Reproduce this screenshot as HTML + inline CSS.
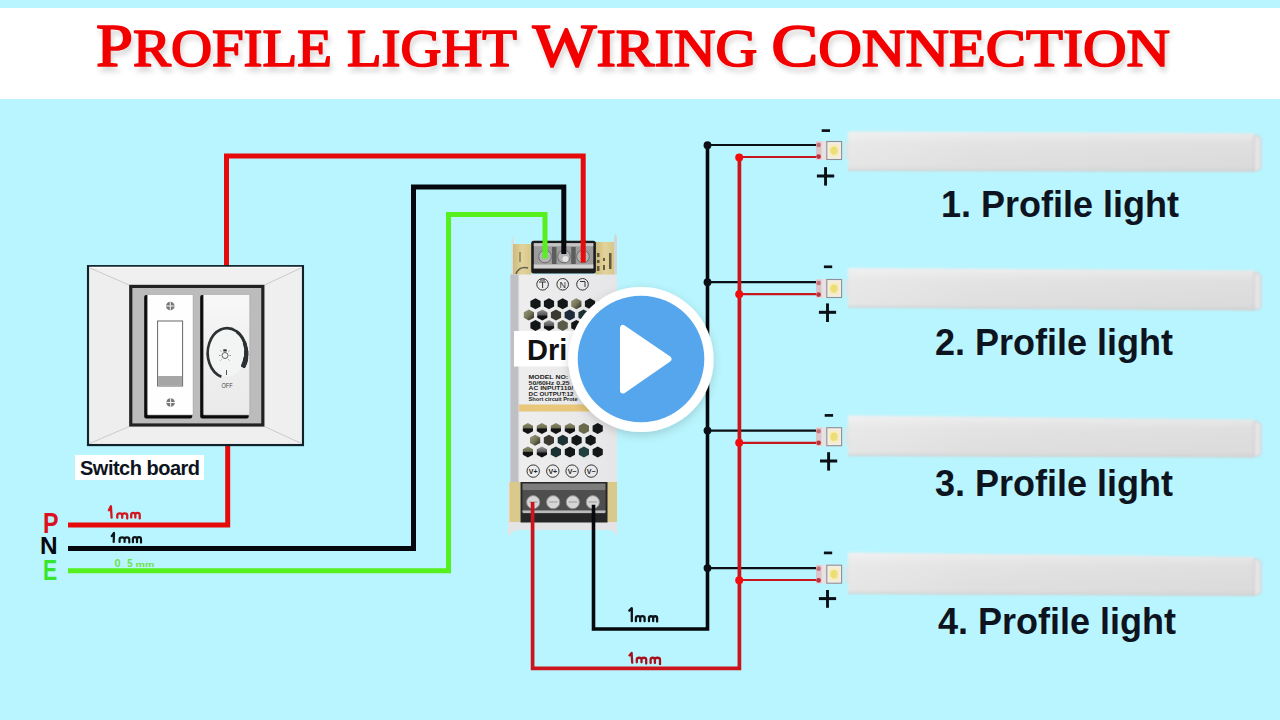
<!DOCTYPE html>
<html><head><meta charset="utf-8"><style>
*{margin:0;padding:0;box-sizing:border-box}
html,body{width:1280px;height:720px;overflow:hidden}
body{position:relative;background:#b9f5fe;font-family:"Liberation Sans",sans-serif}
.band{position:absolute;left:0;top:8px;width:1280px;height:91px;background:#fff}
svg{position:absolute;left:0;top:0}
.lbl{position:absolute;white-space:nowrap;font-family:"Liberation Sans",sans-serif;font-weight:bold;color:#0d1420;line-height:1}
.sb{position:absolute;left:75px;top:455px;width:129px;height:25px;background:#fff}
.title text{font-family:"Liberation Serif",serif;font-weight:normal;fill:#f20000;stroke:#f20000;stroke-width:1.7px;stroke-linejoin:round}
</style></head><body>
<div class="band"></div>

<svg width="1280" height="720" viewBox="0 0 1280 720">
  <defs>
    <filter id="tsh" x="-5%" y="-20%" width="110%" height="160%">
      <feGaussianBlur in="SourceAlpha" stdDeviation="2.8"/>
      <feOffset dx="2" dy="5" result="b"/>
      <feFlood flood-color="#000" flood-opacity="0.15"/>
      <feComposite in2="b" operator="in"/>
      <feMerge><feMergeNode/><feMergeNode in="SourceGraphic"/></feMerge>
    </filter>
    <filter id="psh" x="-20%" y="-20%" width="140%" height="140%">
      <feGaussianBlur in="SourceAlpha" stdDeviation="5"/>
      <feOffset dx="0" dy="3" result="b"/>
      <feFlood flood-color="#000" flood-opacity="0.16"/>
      <feComposite in2="b" operator="in"/>
      <feMerge><feMergeNode/><feMergeNode in="SourceGraphic"/></feMerge>
    </filter>
    <filter id="soft" x="-2%" y="-20%" width="104%" height="140%"><feGaussianBlur stdDeviation="0.8"/></filter>
    <linearGradient id="fade" x1="0" y1="0" x2="1" y2="0"><stop offset="0" stop-color="#e4e4e4" stop-opacity="0"/><stop offset="1" stop-color="#e2e2e2" stop-opacity="1"/></linearGradient>
    <linearGradient id="barv" x1="0" y1="0" x2="0" y2="1"><stop offset="0" stop-color="#fff" stop-opacity="0.45"/><stop offset="0.3" stop-color="#fff" stop-opacity="0.1"/><stop offset="0.75" stop-color="#fff" stop-opacity="0"/><stop offset="1" stop-color="#000" stop-opacity="0.04"/></linearGradient>
    <linearGradient id="bar" x1="0" y1="0" x2="1" y2="0">
      <stop offset="0" stop-color="#e6e6e6"/>
      <stop offset="0.3" stop-color="#e0e0e0"/>
      <stop offset="1" stop-color="#dcdcdc"/>
    </linearGradient>
    <linearGradient id="drv" x1="0" y1="0" x2="1" y2="0">
      <stop offset="0" stop-color="#d6d6d8"/>
      <stop offset="0.1" stop-color="#eeeeef"/>
      <stop offset="1" stop-color="#e6e6e8"/>
    </linearGradient>
    <linearGradient id="ho" x1="0" y1="0" x2="0" y2="1"><stop offset="0" stop-color="#8c8c6a"/><stop offset="0.45" stop-color="#6e6e52"/><stop offset="0.55" stop-color="#111"/><stop offset="1" stop-color="#151515"/></linearGradient>
    <linearGradient id="hl" x1="0" y1="0" x2="1" y2="1"><stop offset="0" stop-color="#9a9a7a"/><stop offset="0.5" stop-color="#77775a"/><stop offset="1" stop-color="#22221c"/></linearGradient>
    <linearGradient id="hg" x1="0" y1="0" x2="0" y2="1"><stop offset="0" stop-color="#9a9a9a"/><stop offset="0.5" stop-color="#555"/><stop offset="0.6" stop-color="#111"/><stop offset="1" stop-color="#111"/></linearGradient>
    <linearGradient id="dim" x1="0" y1="0" x2="0" y2="1"><stop offset="0" stop-color="#f8f8f8"/><stop offset="0.5" stop-color="#efefef"/><stop offset="1" stop-color="#eaeaea"/></linearGradient>
    <linearGradient id="tan" x1="0" y1="0" x2="1" y2="0"><stop offset="0" stop-color="#cdbb7c"/><stop offset="0.5" stop-color="#e2d39c"/><stop offset="1" stop-color="#d6c68a"/></linearGradient>
    </defs>

  <!-- title -->
  <g class="title" filter="url(#tsh)">
    <text x="96" y="66" font-size="62" textLength="236" lengthAdjust="spacingAndGlyphs">P<tspan font-size="53">ROFILE</tspan></text>
    <text x="347" y="66" font-size="53" textLength="170" lengthAdjust="spacingAndGlyphs">LIGHT</text>
    <text x="532.5" y="66" font-size="62" textLength="225" lengthAdjust="spacingAndGlyphs">W<tspan font-size="53">IRING</tspan></text>
    <text x="771.2" y="66" font-size="62" textLength="399" lengthAdjust="spacingAndGlyphs">C<tspan font-size="53">ONNECTION</tspan></text>
  </g>

  <!-- wires left -->
  <g fill="none" stroke-linejoin="miter" stroke-linecap="butt">
    <path d="M68 525 H227.7 V440" stroke="#e60a0a" stroke-width="5"/>
    <path d="M226.5 270 V156 H583.2 V262" stroke="#e60a0a" stroke-width="5"/>
    <path d="M68 548.6 H413.5 V187.1 H563.8 V262" stroke="#05080c" stroke-width="5"/>
    <path d="M68 570.8 H448.5 V214.6 H545 V262" stroke="#55f01e" stroke-width="5"/>
  </g>

  <!-- switch board -->
  <g>
    <rect x="88.1" y="266.2" width="214.8" height="178.8" fill="#eeeeee" stroke="#10232a" stroke-width="2.3"/>
    <polygon points="89.3,267.4 301.7,267.4 264.5,285 129.2,285" fill="#f0f0f1"/>
    <polygon points="89.3,443.8 301.7,443.8 264.5,426.5 129.2,426.5" fill="#efeff0"/>
    <polygon points="89.3,267.4 129.2,285 129.2,426.5 89.3,443.8" fill="#eeeeef"/>
    <polygon points="301.7,267.4 264.5,285 264.5,426.5 301.7,443.8" fill="#efeff0"/>
    <path d="M89.3 267.4 H301.7" stroke="#fbfbfb" stroke-width="1.2"/>
    <path d="M90 268 L129.2 285 M301 268 L264.5 285 M90 443.3 L129.2 426.5 M301 443.3 L264.5 426.5" stroke="#cbcbcb" stroke-width="1"/>
    <rect x="130.75" y="286.4" width="132.1" height="138.6" fill="#bcbcbc" stroke="#222" stroke-width="3.2"/>
    <!-- switch 1 -->
    <rect x="144.2" y="295" width="48" height="123.6" fill="#0a0a0a" rx="2"/>
    <rect x="147.4" y="294.4" width="45.8" height="120.6" fill="#fefefe" stroke="#9a9a9a" stroke-width="0.6" rx="1"/>
    <circle cx="170.3" cy="306" r="4.3" fill="#777"/>
    <path d="M166 306 H174.6 M170.3 301.7 V310.3" stroke="#f4f4f4" stroke-width="1"/>
    <circle cx="170.6" cy="402.5" r="4.3" fill="#777"/>
    <path d="M166.3 402.5 H174.9 M170.6 398.2 V406.8" stroke="#f4f4f4" stroke-width="1"/>
    <rect x="157.6" y="321" width="25" height="65" fill="#fff" stroke="#666" stroke-width="1"/>
    <rect x="158.1" y="376" width="24" height="9.5" fill="#a6a6a6"/>
    <!-- dimmer -->
    <rect x="200.2" y="295" width="48.5" height="123.6" fill="#0a0a0a" rx="2"/>
    <rect x="203.4" y="294.4" width="46.4" height="120.6" fill="url(#dim)" stroke="#a0a0a0" stroke-width="0.6" rx="1"/>
    <ellipse cx="227" cy="353.5" rx="18" ry="23" fill="#f3f4f4"/>
    <path d="M221.36 376.72 A19.3 24.8 0 1 1 242.81 367.22" fill="none" stroke="#2b3032" stroke-width="2.6" stroke-linecap="butt"/>
    <path d="M236.65 331.52 A19.3 24.8 0 0 1 242.81 367.22" fill="none" stroke="#2b3032" stroke-width="3.0" stroke-linecap="butt"/>
    <path d="M244.49 342.52 A19.3 24.8 0 0 1 242.81 367.22" fill="none" stroke="#2b3032" stroke-width="3.6" stroke-linecap="butt"/>
    <path d="M246.23 350.84 A19.3 24.8 0 0 1 242.81 367.22" fill="none" stroke="#2b3032" stroke-width="4.3" stroke-linecap="butt"/>
    <path d="M246.01 357.31 A19.3 24.8 0 0 1 243.19 366.51" fill="none" stroke="#2b3032" stroke-width="4.8" stroke-linecap="butt"/>
    
    <circle cx="225" cy="355.5" r="3" fill="none" stroke="#555" stroke-width="0.9"/>
    <rect x="223.3" y="349.3" width="3.4" height="2.2" fill="#333"/>
    <path d="M220.5 355.5 H219 M229.5 355.5 H231 M221.5 351.5 L220.5 350.5 M228.5 351.5 L229.5 350.5 M221.5 359.5 L220.5 360.5 M228.5 359.5 L229.5 360.5" stroke="#666" stroke-width="0.7"/>
    <path d="M226.5 370 V375" stroke="#555" stroke-width="1"/>
    <text x="221.5" y="387.5" font-size="8" font-family="Liberation Sans" fill="#444" textLength="11" lengthAdjust="spacingAndGlyphs">OFF</text>
  </g>

  <!-- driver -->
  <g>
    <!-- top brackets -->
    <path d="M511.5 276 L511.5 240 L513 236 L514 244 L514 276 Z" fill="#dcdcdc"/>
    <rect x="513" y="244" width="18.5" height="31" fill="url(#tan)"/>
    <rect x="595.5" y="242" width="19" height="33" fill="url(#tan)"/>
    <path d="M614 276 L614 238 L615.5 233 L617 238 L617 276 Z" fill="#d4d4d4"/>
    <g fill="#3a3520" opacity="0.75"><rect x="597" y="253" width="2.5" height="4"/><rect x="597" y="260" width="2.5" height="3"/><rect x="597" y="266" width="2.5" height="5"/><rect x="603" y="258" width="2" height="3"/><rect x="603" y="265" width="2" height="5"/><rect x="609" y="253" width="2.5" height="16"/><rect x="519" y="252" width="2" height="10" opacity="0.5"/></g>
    <path d="M516 274 Q519 266 528 268" fill="none" stroke="#333" stroke-width="1.5" opacity="0.7"/>
    <rect x="531.2" y="240.8" width="64.7" height="32.8" fill="#1c1c1c" rx="2.5"/>
    <rect x="533.8" y="243.2" width="59.5" height="25.6" fill="#9c9c9c"/>
    <rect x="533.8" y="243.2" width="59.5" height="3" fill="#c4c4c4"/>
    <rect x="552" y="247" width="4.5" height="17" fill="#5c5c5c"/>
    <rect x="571.2" y="247" width="4.5" height="17" fill="#5c5c5c"/>
    <g fill="#b4b4b4" stroke="#666" stroke-width="0.9"><circle cx="545" cy="256.5" r="6.3"/><circle cx="564" cy="256.5" r="6.3"/><circle cx="583" cy="256.5" r="6.3"/></g>
    <circle cx="565.5" cy="259" r="3" fill="#e4e4e4"/>
    <rect x="533.8" y="264.5" width="59.5" height="3.5" fill="#d2d2d2"/>
    <!-- top wires into terminal -->
    <path d="M545 240 V258.5" stroke="#55f01e" stroke-width="5"/>
    <path d="M563.8 240 V254" stroke="#05080c" stroke-width="5"/>
    <path d="M583.2 240 V262.5" stroke="#e60a0a" stroke-width="5"/>
    <!-- body -->
    <rect x="510.5" y="274.5" width="106.5" height="208" fill="url(#drv)"/>
    <rect x="510.5" y="274.5" width="8" height="208" fill="#bfc0c3"/>
    <!-- symbols -->
    <g fill="none" stroke="#333" stroke-width="1">
      <circle cx="542.6" cy="284.3" r="5.8"/>
      <circle cx="562.7" cy="284.3" r="5.8"/>
      <circle cx="582.5" cy="284.3" r="5.8"/>
    </g>
    <text x="562.7" y="287.6" font-size="9" fill="#333" text-anchor="middle" font-family="Liberation Sans">N</text>
    <path d="M539 282 H546 M542.6 282 V288 M540 280 H545" stroke="#333" stroke-width="1"/>
    <path d="M580 281.5 H585 V287" stroke="#333" stroke-width="1" fill="none"/>
    <!-- top hexes -->
    <g><polygon transform="translate(535.5 303.7)" points="0,-5.5 5.1,-2.75 5.1,2.75 0,5.5 -5.1,2.75 -5.1,-2.75" fill="#141717"/><polygon transform="translate(549 303.7)" points="0,-5.5 5.1,-2.75 5.1,2.75 0,5.5 -5.1,2.75 -5.1,-2.75" fill="#141717"/><polygon transform="translate(562.7 303.7)" points="0,-5.5 5.1,-2.75 5.1,2.75 0,5.5 -5.1,2.75 -5.1,-2.75" fill="#141717"/><polygon transform="translate(576.3 303.7)" points="0,-5.5 5.1,-2.75 5.1,2.75 0,5.5 -5.1,2.75 -5.1,-2.75" fill="url(#hl)"/><polygon transform="translate(590 303.7)" points="0,-5.5 5.1,-2.75 5.1,2.75 0,5.5 -5.1,2.75 -5.1,-2.75" fill="#141717"/><polygon transform="translate(603.6 303.7)" points="0,-5.5 5.1,-2.75 5.1,2.75 0,5.5 -5.1,2.75 -5.1,-2.75" fill="#141717"/><polygon transform="translate(528.9 315.0)" points="0,-5.5 5.1,-2.75 5.1,2.75 0,5.5 -5.1,2.75 -5.1,-2.75" fill="url(#hl)"/><polygon transform="translate(542.3 315.0)" points="0,-5.5 5.1,-2.75 5.1,2.75 0,5.5 -5.1,2.75 -5.1,-2.75" fill="url(#hg)"/><polygon transform="translate(556 315.0)" points="0,-5.5 5.1,-2.75 5.1,2.75 0,5.5 -5.1,2.75 -5.1,-2.75" fill="#3a3a30"/><polygon transform="translate(569.7 315.0)" points="0,-5.5 5.1,-2.75 5.1,2.75 0,5.5 -5.1,2.75 -5.1,-2.75" fill="#1e2a3a"/><polygon transform="translate(583.5 315.0)" points="0,-5.5 5.1,-2.75 5.1,2.75 0,5.5 -5.1,2.75 -5.1,-2.75" fill="#1c3232"/><polygon transform="translate(597.2 315.0)" points="0,-5.5 5.1,-2.75 5.1,2.75 0,5.5 -5.1,2.75 -5.1,-2.75" fill="#141717"/><polygon transform="translate(535.5 325.6)" points="0,-5.5 5.1,-2.75 5.1,2.75 0,5.5 -5.1,2.75 -5.1,-2.75" fill="#141717"/><polygon transform="translate(549 325.6)" points="0,-5.5 5.1,-2.75 5.1,2.75 0,5.5 -5.1,2.75 -5.1,-2.75" fill="url(#hg)"/><polygon transform="translate(562.7 325.6)" points="0,-5.5 5.1,-2.75 5.1,2.75 0,5.5 -5.1,2.75 -5.1,-2.75" fill="#5a5a48"/><polygon transform="translate(576.3 325.6)" points="0,-5.5 5.1,-2.75 5.1,2.75 0,5.5 -5.1,2.75 -5.1,-2.75" fill="#141717"/><polygon transform="translate(590 325.6)" points="0,-5.5 5.1,-2.75 5.1,2.75 0,5.5 -5.1,2.75 -5.1,-2.75" fill="#141717"/><polygon transform="translate(603.6 325.6)" points="0,-5.5 5.1,-2.75 5.1,2.75 0,5.5 -5.1,2.75 -5.1,-2.75" fill="#141717"/></g>
    <!-- label text -->
    <rect x="514" y="331" width="103" height="35.5" fill="#fff"/>
    <text x="527" y="359.6" font-size="29" font-weight="bold" fill="#111" font-family="Liberation Sans">Dri</text>
    <g font-family="Liberation Sans" font-weight="bold" fill="#222" font-size="5.6">
      <text x="528.6" y="379.2" textLength="39.5" lengthAdjust="spacingAndGlyphs">MODEL NO:</text>
      <text x="528.6" y="384.8" textLength="41" lengthAdjust="spacingAndGlyphs">50/60Hz 0.25</text>
      <text x="528.6" y="390.3" textLength="44.5" lengthAdjust="spacingAndGlyphs">AC INPUT110/</text>
      <text x="528.6" y="395.8" textLength="45" lengthAdjust="spacingAndGlyphs">DC OUTPUT:12</text>
      <text x="528.6" y="401.4" font-size="5" textLength="49" lengthAdjust="spacingAndGlyphs">Short circuit Prote</text>
    </g>
    <rect x="519" y="404.5" width="98" height="7" fill="#e8c77a"/>
    <!-- bottom hexes -->
    <g><polygon transform="translate(527.9 428.4)" points="0,-5.5 5.1,-2.75 5.1,2.75 0,5.5 -5.1,2.75 -5.1,-2.75" fill="url(#ho)"/><polygon transform="translate(541.9 428.4)" points="0,-5.5 5.1,-2.75 5.1,2.75 0,5.5 -5.1,2.75 -5.1,-2.75" fill="url(#ho)"/><polygon transform="translate(555.9 428.4)" points="0,-5.5 5.1,-2.75 5.1,2.75 0,5.5 -5.1,2.75 -5.1,-2.75" fill="url(#ho)"/><polygon transform="translate(569.9 428.4)" points="0,-5.5 5.1,-2.75 5.1,2.75 0,5.5 -5.1,2.75 -5.1,-2.75" fill="url(#ho)"/><polygon transform="translate(583.9 428.4)" points="0,-5.5 5.1,-2.75 5.1,2.75 0,5.5 -5.1,2.75 -5.1,-2.75" fill="#6a6a4a"/><polygon transform="translate(597.7 428.4)" points="0,-5.5 5.1,-2.75 5.1,2.75 0,5.5 -5.1,2.75 -5.1,-2.75" fill="#141717"/><polygon transform="translate(535.1 440.2)" points="0,-5.5 5.1,-2.75 5.1,2.75 0,5.5 -5.1,2.75 -5.1,-2.75" fill="url(#hl)"/><polygon transform="translate(548.9 440.2)" points="0,-5.5 5.1,-2.75 5.1,2.75 0,5.5 -5.1,2.75 -5.1,-2.75" fill="#3a3a30"/><polygon transform="translate(562.8 440.2)" points="0,-5.5 5.1,-2.75 5.1,2.75 0,5.5 -5.1,2.75 -5.1,-2.75" fill="#1c3232"/><polygon transform="translate(576.6 440.2)" points="0,-5.5 5.1,-2.75 5.1,2.75 0,5.5 -5.1,2.75 -5.1,-2.75" fill="#141717"/><polygon transform="translate(590.6 440.2)" points="0,-5.5 5.1,-2.75 5.1,2.75 0,5.5 -5.1,2.75 -5.1,-2.75" fill="#141717"/><polygon transform="translate(527.9 451.9)" points="0,-5.5 5.1,-2.75 5.1,2.75 0,5.5 -5.1,2.75 -5.1,-2.75" fill="url(#ho)"/><polygon transform="translate(541.9 451.9)" points="0,-5.5 5.1,-2.75 5.1,2.75 0,5.5 -5.1,2.75 -5.1,-2.75" fill="url(#hg)"/><polygon transform="translate(555.9 451.9)" points="0,-5.5 5.1,-2.75 5.1,2.75 0,5.5 -5.1,2.75 -5.1,-2.75" fill="#1c3232"/><polygon transform="translate(569.9 451.9)" points="0,-5.5 5.1,-2.75 5.1,2.75 0,5.5 -5.1,2.75 -5.1,-2.75" fill="#141717"/><polygon transform="translate(583.9 451.9)" points="0,-5.5 5.1,-2.75 5.1,2.75 0,5.5 -5.1,2.75 -5.1,-2.75" fill="#234040"/><polygon transform="translate(597.7 451.9)" points="0,-5.5 5.1,-2.75 5.1,2.75 0,5.5 -5.1,2.75 -5.1,-2.75" fill="#141717"/></g>
    <g fill="none" stroke="#333" stroke-width="1">
      <circle cx="533.2" cy="471.1" r="6.2"/><circle cx="552.8" cy="471.1" r="6.2"/><circle cx="572.1" cy="471.1" r="6.2"/><circle cx="591.2" cy="471.1" r="6.2"/>
    </g>
    <g font-family="Liberation Sans" font-size="7" fill="#222" text-anchor="middle" font-weight="bold">
      <text x="533.2" y="473.6">V+</text><text x="552.8" y="473.6">V+</text><text x="572.1" y="473.6">V−</text><text x="591.2" y="473.6">V−</text>
    </g>
    <!-- bottom terminal -->
    <path d="M508 482 H617 V536 L612 530 H516 L508 536 Z" fill="#e4e4e6"/>
    <rect x="509.5" y="482" width="11" height="40" fill="#d9c98a"/>
    <rect x="607" y="482" width="10" height="40" fill="#d9c98a"/>
    <rect x="520.5" y="482" width="87" height="40.5" fill="#262626"/>
    <rect x="522.5" y="483.5" width="83" height="7" fill="#7c7c7c"/>
    <rect x="522.5" y="490.5" width="83" height="23" fill="#4e4e4e"/>
    <g fill="#d6d6d6" stroke="#8a8a8a" stroke-width="1"><circle cx="533.2" cy="502.2" r="6.6"/><circle cx="553.2" cy="502.2" r="6.6"/><circle cx="572.8" cy="502.2" r="6.6"/><circle cx="592.8" cy="502.2" r="6.6"/></g>
    <g fill="none" stroke="#9a9a9a" stroke-width="1"><path d="M529 502 H537.5 M549 502 H557.5 M568.5 502 H577 M588.5 502 H597"/></g>
    <rect x="522.5" y="510.5" width="83" height="1.8" fill="#c8c8c8"/>
  </g>
    <rect x="523" y="511" width="82" height="2" fill="#bbb"/>
  </g>

  <!-- right side wiring -->
  <g fill="none" stroke-linecap="butt">
    <path d="M593.5 504.7 V629 H707.5 V145" stroke="#05080c" stroke-width="3.6"/>
    <path d="M707.5 145 H818 M707.5 282.2 H818 M707.5 430.6 H818 M707.5 568.1 H818" stroke="#0b1016" stroke-width="2.2"/>
    <path d="M532.6 502 V668.3 H739.4 V157" stroke="#cc141c" stroke-width="3.7"/>
    <path d="M739.4 157 H818 M739.4 294.2 H818 M739.4 442.8 H818 M739.4 580 H818" stroke="#c8161e" stroke-width="2.2"/>
  </g>
  <g fill="#0b1016"><circle cx="707.5" cy="145.2" r="3.9"/><circle cx="707.5" cy="282.2" r="3.9"/><circle cx="707.5" cy="430.6" r="3.9"/><circle cx="707.5" cy="568.1" r="3.9"/></g>
  <g fill="#f40c0c"><circle cx="739.2" cy="157.5" r="4"/><circle cx="739.2" cy="294.2" r="4"/><circle cx="739.2" cy="442.8" r="4"/><circle cx="739.2" cy="580.2" r="4"/></g>

  <!-- profile lights -->
  <g filter="url(#soft)">
    <polygon points="848,131.5 1254.5,133.3 1254.5,171.7 848,171" fill="url(#bar)"/>
    <polygon points="848,131.5 1254.5,133.3 1254.5,171.7 848,171" fill="url(#barv)"/>
    <path d="M848 170.2 L1254.5 170.89999999999998" stroke="#cfcfcf" stroke-width="1.2"/>
    <path d="M1254 135.3 Q1261 135.3 1261 139.3 L1261 167.7 Q1261 170.7 1254 170.7 Z" fill="#e6e4e6" stroke="#c9c3c6" stroke-width="0.8"/>
    <rect x="841" y="142" width="8" height="17" fill="url(#fade)"/>
    <polygon points="848,268 1254.5,270.5 1254.5,310.5 848,307.6" fill="url(#bar)"/>
    <polygon points="848,268 1254.5,270.5 1254.5,310.5 848,307.6" fill="url(#barv)"/>
    <path d="M848 306.8 L1254.5 309.7" stroke="#cfcfcf" stroke-width="1.2"/>
    <path d="M1254 272.5 Q1261 272.5 1261 276.5 L1261 306.5 Q1261 309.5 1254 309.5 Z" fill="#e6e4e6" stroke="#c9c3c6" stroke-width="0.8"/>
    <rect x="841" y="280" width="8" height="17" fill="url(#fade)"/>
    <polygon points="848,415.6 1254.5,419.5 1254.5,457.5 848,456" fill="url(#bar)"/>
    <polygon points="848,415.6 1254.5,419.5 1254.5,457.5 848,456" fill="url(#barv)"/>
    <path d="M848 455.2 L1254.5 456.7" stroke="#cfcfcf" stroke-width="1.2"/>
    <path d="M1254 421.5 Q1261 421.5 1261 425.5 L1261 453.5 Q1261 456.5 1254 456.5 Z" fill="#e6e4e6" stroke="#c9c3c6" stroke-width="0.8"/>
    <rect x="841" y="428.2" width="8" height="17" fill="url(#fade)"/>
    <polygon points="848,552.5 1254.5,557 1254.5,596 848,594" fill="url(#bar)"/>
    <polygon points="848,552.5 1254.5,557 1254.5,596 848,594" fill="url(#barv)"/>
    <path d="M848 593.2 L1254.5 595.2" stroke="#cfcfcf" stroke-width="1.2"/>
    <path d="M1254 559 Q1261 559 1261 563 L1261 592 Q1261 595 1254 595 Z" fill="#e6e4e6" stroke="#c9c3c6" stroke-width="0.8"/>
    <rect x="841" y="565.7" width="8" height="17" fill="url(#fade)"/>
  </g>
  <g>
    <g transform="translate(0 141)">
      <!-- LED strip segment -->
      <rect x="816" y="0" width="26" height="19" fill="#e6e2e4"/>
      <rect x="816" y="0.5" width="5.5" height="18" fill="#dcc4c8"/>
      <circle cx="818.6" cy="4" r="2.3" fill="#c87078"/>
      <circle cx="818.6" cy="15.6" r="2.4" fill="#c0303a"/>
      <rect x="826.8" y="0.5" width="14.8" height="18" fill="#f2eee4" stroke="#8f8f98" stroke-width="1.1"/>
      <rect x="829" y="3" width="10.5" height="13.2" fill="#f6ecc8"/>
      <ellipse cx="834" cy="9.6" rx="3.6" ry="4.2" fill="#ece06a"/>
      <ellipse cx="835.5" cy="9.8" rx="1.8" ry="3.2" fill="#f2d890" opacity="0.6"/>
    </g>
    <g transform="translate(0 279)">
      <!-- LED strip segment -->
      <rect x="816" y="0" width="26" height="19" fill="#e6e2e4"/>
      <rect x="816" y="0.5" width="5.5" height="18" fill="#dcc4c8"/>
      <circle cx="818.6" cy="4" r="2.3" fill="#c87078"/>
      <circle cx="818.6" cy="15.6" r="2.4" fill="#c0303a"/>
      <rect x="826.8" y="0.5" width="14.8" height="18" fill="#f2eee4" stroke="#8f8f98" stroke-width="1.1"/>
      <rect x="829" y="3" width="10.5" height="13.2" fill="#f6ecc8"/>
      <ellipse cx="834" cy="9.6" rx="3.6" ry="4.2" fill="#ece06a"/>
      <ellipse cx="835.5" cy="9.8" rx="1.8" ry="3.2" fill="#f2d890" opacity="0.6"/>
    </g>
    <g transform="translate(0 427.2)">
      <!-- LED strip segment -->
      <rect x="816" y="0" width="26" height="19" fill="#e6e2e4"/>
      <rect x="816" y="0.5" width="5.5" height="18" fill="#dcc4c8"/>
      <circle cx="818.6" cy="4" r="2.3" fill="#c87078"/>
      <circle cx="818.6" cy="15.6" r="2.4" fill="#c0303a"/>
      <rect x="826.8" y="0.5" width="14.8" height="18" fill="#f2eee4" stroke="#8f8f98" stroke-width="1.1"/>
      <rect x="829" y="3" width="10.5" height="13.2" fill="#f6ecc8"/>
      <ellipse cx="834" cy="9.6" rx="3.6" ry="4.2" fill="#ece06a"/>
      <ellipse cx="835.5" cy="9.8" rx="1.8" ry="3.2" fill="#f2d890" opacity="0.6"/>
    </g>
    <g transform="translate(0 564.7)">
      <!-- LED strip segment -->
      <rect x="816" y="0" width="26" height="19" fill="#e6e2e4"/>
      <rect x="816" y="0.5" width="5.5" height="18" fill="#dcc4c8"/>
      <circle cx="818.6" cy="4" r="2.3" fill="#c87078"/>
      <circle cx="818.6" cy="15.6" r="2.4" fill="#c0303a"/>
      <rect x="826.8" y="0.5" width="14.8" height="18" fill="#f2eee4" stroke="#8f8f98" stroke-width="1.1"/>
      <rect x="829" y="3" width="10.5" height="13.2" fill="#f6ecc8"/>
      <ellipse cx="834" cy="9.6" rx="3.6" ry="4.2" fill="#ece06a"/>
      <ellipse cx="835.5" cy="9.8" rx="1.8" ry="3.2" fill="#f2d890" opacity="0.6"/>
    </g>
  </g>
  <!-- +/- signs -->
  <g fill="#0b1016">
    <rect x="821.7" y="129.25" width="8.3" height="2.7"/>
    <rect x="816.9" y="174.50" width="17.3" height="3"/><rect x="824.10" y="167.2" width="2.9" height="18.4"/>
    <rect x="823.9" y="265.45" width="8.3" height="2.7"/>
    <rect x="818.9" y="310.80" width="17.2" height="3"/><rect x="826.05" y="303.4" width="2.9" height="18.6"/>
    <rect x="824.7" y="414.05" width="8.4" height="2.7"/>
    <rect x="820.0" y="459.50" width="17.2" height="3"/><rect x="827.15" y="452.2" width="2.9" height="18.4"/>
    <rect x="823.9" y="551.55" width="8.3" height="2.7"/>
    <rect x="818.9" y="597.10" width="17.2" height="3"/><rect x="826.05" y="590.0" width="2.9" height="17.8"/>
  </g>

  <!-- PNE letters & wire labels -->
  <g font-family="Liberation Sans" font-weight="bold">
    <text x="43" y="533" font-size="28.6" fill="#dc1020" textLength="15.6" lengthAdjust="spacingAndGlyphs">P</text>
    <text x="40" y="554" font-size="24.4" fill="#05080c">N</text>
    <text x="43" y="580" font-size="28.6" fill="#36e62e" textLength="14.2" lengthAdjust="spacingAndGlyphs">E</text>
  </g>
  <path d="M108.9 510.2 L110.9 506.2 L111.6 517.6 M117.3 517.8 L117.3 515.2 C117.3 512.7 122.2 512.7 122.2 515.2 L122.2 517.8 M122.2 515.2 C122.2 512.7 127.2 512.7 127.2 515.2 L127.2 518.6 M131.2 517.6 L131.2 514.8 C131.2 512.3 135.3 512.3 135.3 514.8 L135.3 517.6 M135.3 514.8 C135.3 512.3 139.7 512.3 139.7 514.8 L139.7 518.4" fill="none" stroke="#d4161e" stroke-width="2.3" stroke-linecap="round" stroke-linejoin="round"/>
  <path d="M111.7 536.1 L114.0 532.8 L113.7 542.0 M119.6 542.0 L119.6 539.2 C119.6 536.7 124.6 536.7 124.6 539.2 L124.6 542.0 M124.6 539.2 C124.6 536.7 129.3 536.7 129.3 539.2 L129.3 542.4 M132.9 542.2 L132.9 539.0 C132.9 536.5 137.0 536.5 137.0 539.0 L137.0 542.2 M137.0 539.0 C137.0 536.5 141.0 536.5 141.0 539.0 L141.0 542.6" fill="none" stroke="#0e1418" stroke-width="2.2" stroke-linecap="round" stroke-linejoin="round"/>
  <path d="M629.3 610.6 L631.8 608.2 L631.8 621.2 M635.9 621.2 L635.9 618.0 C635.9 615.5 640.2 615.5 640.2 618.0 L640.2 621.2 M640.2 618.0 C640.2 615.5 644.6 615.5 644.6 618.0 L644.6 621.2 M649.0 621.2 L649.0 618.1 C649.0 615.6 653.2 615.6 653.2 618.1 L653.2 621.2 M653.2 618.1 C653.2 615.6 657.1 615.6 657.1 618.1 L657.1 621.6" fill="none" stroke="#0e1418" stroke-width="2.3" stroke-linecap="round" stroke-linejoin="round"/>
  <path d="M629.5 655.4 L631.6 652.9 L632.2 662.7 M636.8 662.3 L636.8 659.6 C636.8 657.1 641.5 657.1 641.5 659.6 L641.5 662.3 M641.5 659.6 C641.5 657.1 646.2 657.1 646.2 659.6 L646.2 663.6 M650.6 663.0 L650.6 659.6 C650.6 657.1 654.9 657.1 654.9 659.6 L654.9 663.0 M654.9 659.6 C654.9 657.1 660.0 657.1 660.0 659.6 L660.0 664.2" fill="none" stroke="#a8101e" stroke-width="2.3" stroke-linecap="round" stroke-linejoin="round"/>
  <g font-family="Liberation Sans" fill="#6ee04c" font-weight="bold">
    <text x="114.5" y="566.8" font-size="10.6" textLength="6.1" lengthAdjust="spacingAndGlyphs">0</text>
    <text x="122" y="566.8" font-size="8" fill-opacity="0.5">.</text>
    <text x="127.2" y="566.8" font-size="10.6" textLength="5.4" lengthAdjust="spacingAndGlyphs">5</text>
    <text x="135.6" y="567" font-size="7.8" textLength="18.8" lengthAdjust="spacingAndGlyphs">mm</text>
  </g>

  <!-- play button -->
  <g filter="url(#psh)">
    <circle cx="641" cy="359.5" r="72.6" fill="#fff"/>
  </g>
  <circle cx="641" cy="359" r="63.3" fill="#55a6ec"/>
  <path d="M623 328 L623 390.5 L668.5 359 Z" fill="#fff" stroke="#fff" stroke-width="6" stroke-linejoin="round"/>
</svg>

<div class="sb"></div>
<div class="lbl" style="left:80px;top:458px;font-size:20px;letter-spacing:-0.5px">Switch board</div>

<div class="lbl" style="left:941px;top:187px;font-size:36px">1. Profile light</div>
<div class="lbl" style="left:935px;top:325px;font-size:36px">2. Profile light</div>
<div class="lbl" style="left:935px;top:465.5px;font-size:36px">3. Profile light</div>
<div class="lbl" style="left:938px;top:604px;font-size:36px">4. Profile light</div>
</body></html>
